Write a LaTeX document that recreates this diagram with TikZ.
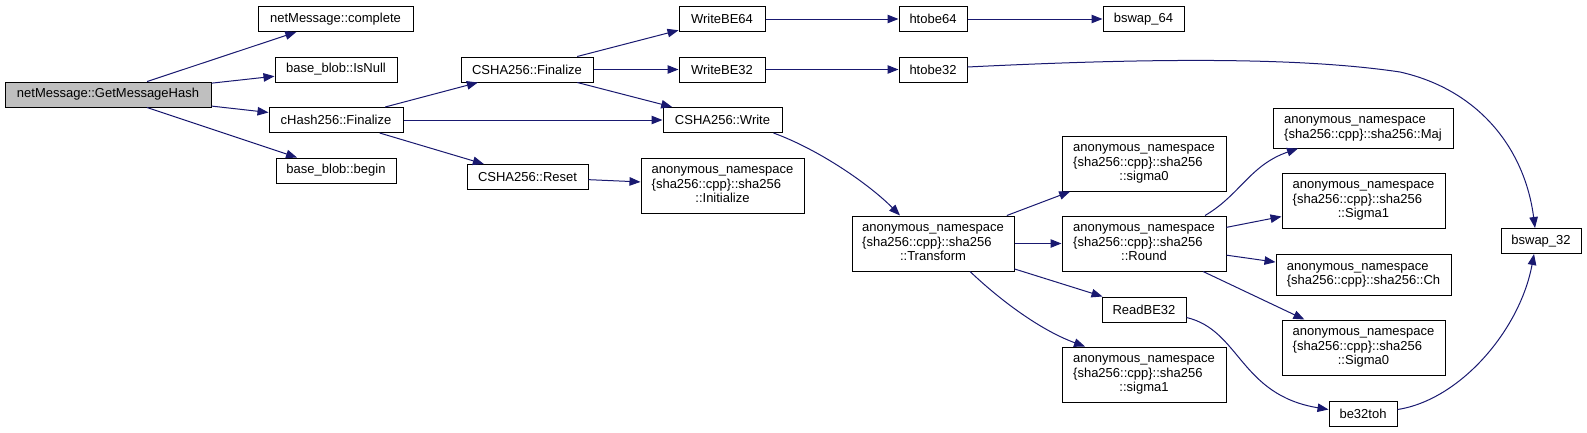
\documentclass[tikz,border=0pt]{standalone}
\usepackage{fontspec}
\setmainfont{Liberation Sans}
\usetikzlibrary{arrows.meta}
\definecolor{edgecol}{RGB}{25,25,112}
\definecolor{rootfill}{RGB}{191,191,191}
\newcommand{\threeline}[3]{\begin{tabular}{@{}l@{}}#1\\#2\\\multicolumn{1}{@{}c@{}}{#3}\end{tabular}}
\newcommand{\twoline}[2]{\begin{tabular}{@{}l@{}}#1\\#2\end{tabular}}
\tikzset{
  box/.style={draw=black, fill=white, line width=1pt, minimum height=25pt, inner sep=0pt,
    font=\fontsize{13pt}{14.5pt}\selectfont},
  tall/.style={box, minimum height=55pt},
  conn/.style={draw=edgecol, line width=1pt, -{Triangle[length=11pt,width=8.5pt]}}
}
\begin{document}
\begin{tikzpicture}[x=1pt,y=-1pt]
\useasboundingbox (0,0) rectangle (1587,432);
% column 1
\node[box, fill=rootfill, minimum width=206pt] (gmh) at (108,94.5) {netMessage::GetMessageHash};
% column 2
\node[box, minimum width=155pt] (complete) at (335.5,19) {netMessage::complete};
\node[box, minimum width=122pt] (isnull) at (336,69.5) {base\_blob::IsNull};
\node[box, minimum width=134pt] (chash) at (336,120) {cHash256::Finalize};
\node[box, minimum width=120pt] (begin) at (336,170.5) {base\_blob::begin};
% column 3
\node[box, minimum width=132pt] (cfin) at (527,69.5) {CSHA256::Finalize};
\node[box, minimum width=121pt] (reset) at (527.5,177) {CSHA256::Reset};
% column 4
\node[box, minimum width=86pt] (wbe64) at (722,19) {WriteBE64};
\node[box, minimum width=86pt] (wbe32) at (722,69.5) {WriteBE32};
\node[box, minimum width=119pt] (write) at (722.5,120) {CSHA256::Write};
\node[tall, minimum width=163pt] (init) at (722.5,185.5) {\threeline{anonymous\_namespace}{\{sha256::cpp\}::sha256}{::Initialize}};
% column 5
\node[box, minimum width=68pt] (htobe64) at (933,19) {htobe64};
\node[box, minimum width=68pt] (htobe32) at (933,69.5) {htobe32};
\node[tall, minimum width=162pt] (transform) at (933,243.5) {\threeline{anonymous\_namespace}{\{sha256::cpp\}::sha256}{::Transform}};
% column 6
\node[box, minimum width=81pt] (bswap64) at (1143.5,19) {bswap\_64};
\node[tall, minimum width=164pt] (sigma0s) at (1144,163.5) {\threeline{anonymous\_namespace}{\{sha256::cpp\}::sha256}{::sigma0}};
\node[tall, minimum width=164pt] (round) at (1144,243.5) {\threeline{anonymous\_namespace}{\{sha256::cpp\}::sha256}{::Round}};
\node[box, minimum width=84pt] (readbe32) at (1144,309.5) {ReadBE32};
\node[tall, minimum width=164pt] (sigma1s) at (1144,374.5) {\threeline{anonymous\_namespace}{\{sha256::cpp\}::sha256}{::sigma1}};
% column 7
\node[box, minimum width=180pt, minimum height=40pt] (maj) at (1363,128) {\twoline{anonymous\_namespace}{\{sha256::cpp\}::sha256::Maj}};
\node[tall, minimum width=163pt] (bigsigma1) at (1363.5,200.5) {\threeline{anonymous\_namespace}{\{sha256::cpp\}::sha256}{::Sigma1}};
\node[box, minimum width=175pt, minimum height=41pt] (ch) at (1363.5,274.5) {\twoline{anonymous\_namespace}{\{sha256::cpp\}::sha256::Ch}};
\node[tall, minimum width=163pt] (bigsigma0) at (1363.5,347.5) {\threeline{anonymous\_namespace}{\{sha256::cpp\}::sha256}{::Sigma0}};
\node[box, minimum width=68pt] (be32toh) at (1363,413.5) {be32toh};
% column 8
\node[box, minimum width=80pt] (bswap32) at (1541,241) {bswap\_32};
% edges
\draw[conn] (gmh) -- (complete);
\draw[conn] (gmh) -- (isnull);
\draw[conn] (gmh) -- (chash);
\draw[conn] (gmh) -- (begin);
\draw[conn] (chash) -- (cfin);
\draw[conn] (chash) -- (write);
\draw[conn] (chash) -- (reset);
\draw[conn] (cfin) -- (wbe64);
\draw[conn] (cfin) -- (wbe32);
\draw[conn] (cfin) -- (write);
\draw[conn] (reset) -- (init);
\draw[conn] (wbe64) -- (htobe64);
\draw[conn] (wbe32) -- (htobe32);
\draw[conn] (htobe64) -- (bswap64);
\draw[conn] ([yshift=2.5pt]htobe32.east) .. controls (1150,58) and (1300,57) .. (1400,72)
  .. controls (1480,90) and (1525,150) .. ([xshift=-6pt]bswap32.north);
\draw[conn] ([xshift=-9pt]write.south east) .. controls (820,150) and (870,185) .. ([xshift=-33pt]transform.north);
\draw[conn] (transform) -- (sigma0s);
\draw[conn] (transform) -- (round);
\draw[conn] (transform) -- (readbe32);
\draw[conn] ([xshift=37pt]transform.south) .. controls (1000,300) and (1040,330) .. ([xshift=-59pt]sigma1s.north);
\draw[conn] ([xshift=61pt]round.north) .. controls (1240,195) and (1250,165) .. ([xshift=-65pt]maj.south);
\draw[conn] (round) -- (bigsigma1);
\draw[conn] (round) -- (ch);
\draw[conn] (round) -- (bigsigma0);
\draw[conn] ([yshift=-8pt]readbe32.east) .. controls (1240,330) and (1240,395) .. ([yshift=4pt]be32toh.west);
\draw[conn] ([yshift=4pt]be32toh.east) .. controls (1460,400) and (1520,330) .. ([xshift=-7pt]bswap32.south);
\end{tikzpicture}
\end{document}
